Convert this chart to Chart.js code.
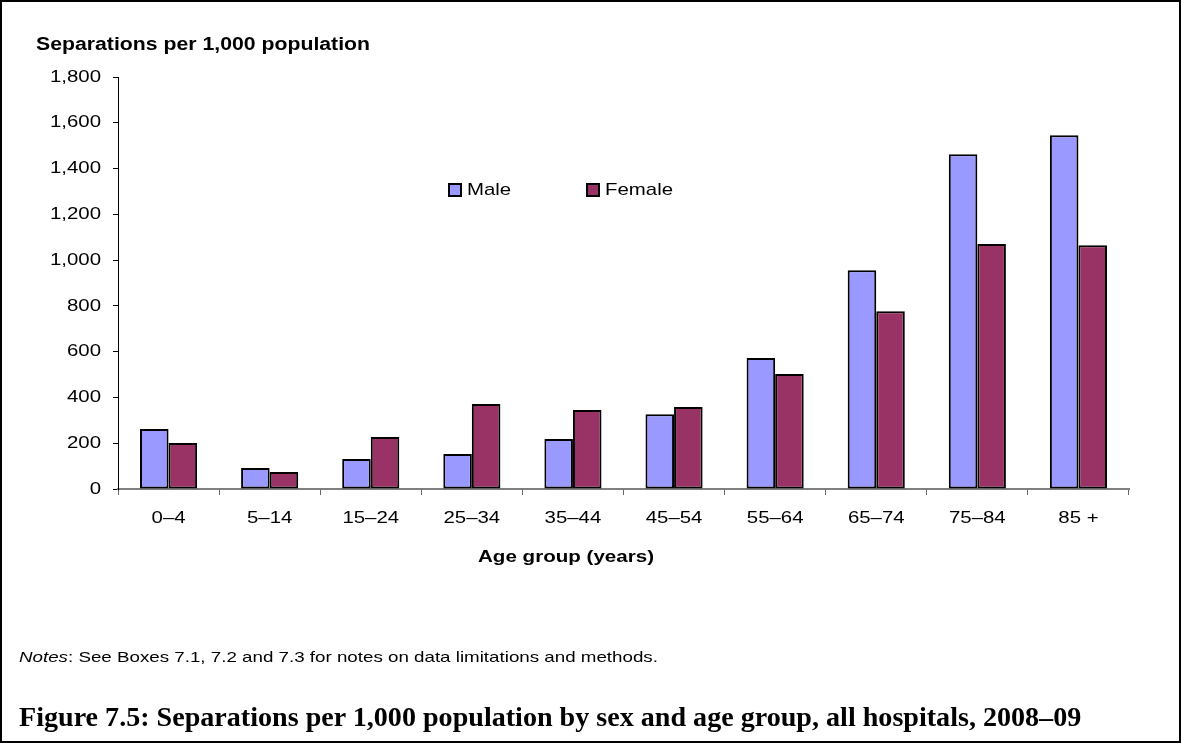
<!DOCTYPE html>
<html>
<head>
<meta charset="utf-8">
<title>Separations per 1,000 population by sex and age group</title>
<script src="https://cdn.jsdelivr.net/npm/chart.js@4/dist/chart.umd.min.js"></script>
<style>
  html, body { margin: 0; padding: 0; background: #fff; }
  #page { position: relative; width: 1181px; height: 743px; overflow: hidden; background: #fff;
          font-family: "Liberation Sans", Arial, sans-serif; color: #000; }
  #chart { position: absolute; left: 0; top: 0; }
  #border { position: absolute; left: 0; top: 0; right: 0; bottom: 0; border: 2px solid #000; pointer-events: none; }
  .wide { display: inline-block; transform-origin: 0 50%; white-space: nowrap; }
  #yTitle { position: absolute; left: 36px; top: 33px; font-size: 18px; line-height: 22px; font-weight: bold; white-space: nowrap; }
  #yTitle .wide { transform: scaleX(1.18); }
  #xTitle { position: absolute; left: 478px; top: 547px; font-size: 17px; line-height: 20px; font-weight: bold; white-space: nowrap; }
  #xTitle .wide { transform: scaleX(1.21); }
  #legend { position: absolute; left: 0; top: 180px; height: 20px; }
  .swatch { position: absolute; top: 3px; width: 10px; height: 10px; border: 2px solid #000; }
  .ltext { position: absolute; top: 0; font-size: 17px; line-height: 20px; transform: scaleX(1.2); transform-origin: 0 50%; white-space: nowrap; }
  #notes { position: absolute; left: 19px; top: 648px; font-size: 15px; line-height: 18px; white-space: nowrap; }
  #notes .wide { transform: scaleX(1.25); }
  #caption { position: absolute; left: 19px; font-family: "Liberation Serif", "Times New Roman", serif; font-weight: bold; white-space: nowrap; }
</style>
</head>
<body>
<div id="page">
  <canvas id="chart" width="1181" height="743"></canvas>
  <div id="yTitle"><span class="wide">Separations per 1,000 population</span></div>
  <div id="xTitle"><span class="wide">Age group (years)</span></div>
  <div id="legend"></div>
  <div id="notes"><span class="wide"><i>Notes</i>: See Boxes 7.1, 7.2 and 7.3 for notes on data limitations and methods.</span></div>
  <div id="caption">Figure 7.5: Separations per 1,000 population by sex and age group, all hospitals, 2008–09</div>
  <div id="border"></div>
</div>
<script>
// Age groups along the horizontal axis
const ageGroups = ['0–4', '5–14', '15–24', '25–34', '35–44', '45–54', '55–64', '65–74', '75–84', '85 +'];

// Separations per 1,000 population
const maleRates   = [262, 92, 131, 153, 218, 327, 572, 956, 1463, 1546];
const femaleRates = [201, 74, 227, 371, 345, 358, 502, 777, 1070, 1065];

// Vertical axis ticks
const yTicks = [0, 200, 400, 600, 800, 1000, 1200, 1400, 1600, 1800];

const seriesNames  = ['Male', 'Female'];
const seriesColors = ['#9999FF', '#993366'];

const FONT = '"Liberation Sans", Arial, sans-serif';
const fmt = v => Number(v).toLocaleString('en-US');

// Tick labels drawn from the scales, with the same wide lettering as the titles
const wideTickLabels = {
  id: 'wideTickLabels',
  afterDraw(chart, args, opts) {
    const ctx = chart.ctx;
    const xs = chart.scales.x, ys = chart.scales.y;
    ctx.save();
    ctx.fillStyle = '#000';
    ctx.font = '17px ' + FONT;

    ctx.textAlign = 'right';
    ctx.textBaseline = 'middle';
    ys.ticks.forEach(t => {
      ctx.save();
      ctx.translate(chart.chartArea.left - 5 - 12, ys.getPixelForValue(t.value));
      ctx.scale(opts.stretch, 1);
      ctx.fillText(fmt(t.value), 0, 0);
      ctx.restore();
    });

    ctx.textAlign = 'center';
    ctx.textBaseline = 'top';
    xs.ticks.forEach((t, i) => {
      ctx.save();
      ctx.translate(xs.getPixelForTick(i), chart.chartArea.bottom + 21);
      ctx.scale(opts.stretch, 1);
      ctx.fillText(xs.getLabelForValue(t.value), 0, 0);
      ctx.restore();
    });
    ctx.restore();
  }
};

const chart = new Chart(document.getElementById('chart'), {
  type: 'bar',
  data: {
    labels: ageGroups,
    datasets: [
      { label: seriesNames[0], data: maleRates, backgroundColor: seriesColors[0] },
      { label: seriesNames[1], data: femaleRates, backgroundColor: seriesColors[1] }
    ]
  },
  plugins: [wideTickLabels],
  options: {
    responsive: false,
    animation: false,
    devicePixelRatio: 1,
    layout: { padding: { left: 0, top: 77, right: 52, bottom: 743 - 489 - 40 } },
    datasets: {
      bar: {
        borderColor: '#000',
        borderWidth: 2,
        borderSkipped: false,
        barPercentage: 1,
        categoryPercentage: 0.565
      }
    },
    plugins: {
      legend: { display: false },
      tooltip: { enabled: false },
      title: { display: false },
      wideTickLabels: { stretch: 1.2 }
    },
    scales: {
      x: {
        grid: { display: true, drawOnChartArea: false, drawTicks: true, tickLength: 6, color: '#666', offset: true },
        border: { display: true, color: '#808080', width: 2 },
        ticks: { display: false, autoSkip: false },
        afterFit(scale) { scale.height = 40; }
      },
      y: {
        min: yTicks[0],
        max: yTicks[yTicks.length - 1],
        afterBuildTicks(scale) { scale.ticks = yTicks.map(v => ({ value: v })); },
        grid: { display: true, drawOnChartArea: false, drawTicks: true, tickLength: 5, color: '#000' },
        border: { display: true, color: '#000', width: 1 },
        ticks: { display: false },
        afterFit(scale) { scale.width = 118; }
      }
    }
  }
});

// Legend built from the chart's datasets, placed inside the plot area
const legendBox = document.getElementById('legend');
const swatchX = [448, 586];
const labelX = [467, 605];
chart.data.datasets.forEach((ds, i) => {
  const sw = document.createElement('div');
  sw.className = 'swatch';
  sw.style.left = swatchX[i] + 'px';
  sw.style.background = ds.backgroundColor;
  const tx = document.createElement('div');
  tx.className = 'ltext';
  tx.style.left = labelX[i] + 'px';
  tx.textContent = ds.label;
  legendBox.appendChild(sw);
  legendBox.appendChild(tx);
});

// Caption sized to span its line, sitting on baseline y = 728
(function () {
  const cap = document.getElementById('caption');
  const ctx = document.createElement('canvas').getContext('2d');
  ctx.font = 'bold 100px "Liberation Serif"';
  const w = ctx.measureText(cap.textContent).width;
  const size = 100 * 1063 / w;
  cap.style.fontSize = size.toFixed(2) + 'px';
  cap.style.lineHeight = size.toFixed(2) + 'px';
  cap.style.top = (728 - 0.891 * size).toFixed(1) + 'px';
})();
</script>
</body>
</html>
